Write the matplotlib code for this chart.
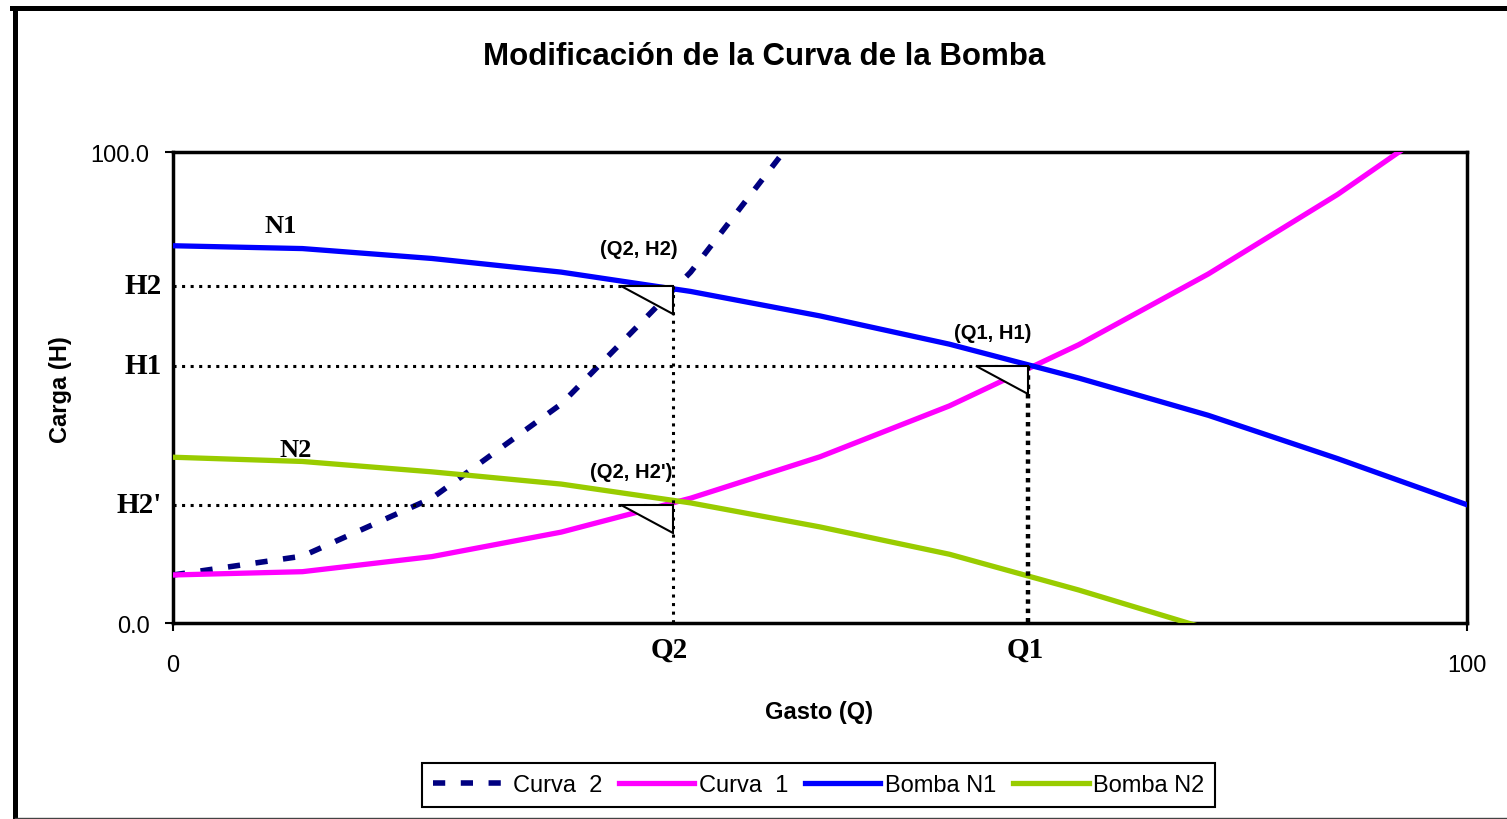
import numpy as np
import matplotlib
matplotlib.use("Agg")
import matplotlib.pyplot as plt
import matplotlib.transforms as mtransforms
from matplotlib.patches import Polygon
from matplotlib.lines import Line2D

plt.rcParams['font.family'] = ['Liberation Sans', 'DejaVu Sans']

# gasto (Q) en cada punto de las curvas
q = [0, 10, 20, 30, 40, 50, 60, 70, 80, 90, 100]
q_curva2 = [0, 10, 20, 30, 40, 50]
q_n2 = [0, 10, 20, 30, 40, 50, 60, 70, 80]

# carga (H)
h_curva2 = [10.2, 14.2, 26.5, 46.5, 74.5, 110.0]
h_curva1 = [10.2, 10.9, 14.1, 19.3, 26.5, 35.3, 46.1, 59.1, 74.1, 91.0, 110.0]
h_n1 = [80.1, 79.5, 77.4, 74.5, 70.4, 65.2, 59.2, 52.0, 44.1, 34.9, 25.1]
h_n2 = [35.2, 34.3, 32.1, 29.5, 25.5, 20.4, 14.6, 7.0, -1.3]

# puntos de operacion
Q1, H1 = 66.1, 54.6
Q2, H2 = 38.6, 71.6
H2p = 25.1

fig = plt.figure(figsize=(15.07, 8.2), dpi=100)
ax = fig.add_axes([0.1148, 0.2390, 0.8587, 0.5744])

ax.plot(q_curva2, h_curva2, color='#000080', lw=4, ls=(0, (2.2, 2.8)), label='Curva  2', zorder=3)
ax.plot(q, h_curva1, color='#FF00FF', lw=3.8, label='Curva  1', zorder=3)
ax.plot(q, h_n1, color='#0000FF', lw=3.8, label='Bomba N1', zorder=3)
ax.plot(q_n2, h_n2, color='#99CC00', lw=3.8, label='Bomba N2', zorder=3)

ax.set_xlim(0, 100)
ax.set_ylim(0, 100)
ax.set_xticks([0, 100])
ax.set_xticklabels(['0', '100'])
ax.set_yticks([0, 100])
ax.set_yticklabels(['0.0', '100.0'])
ax.tick_params(axis='x', length=6, width=1.5, pad=16, labelsize=17)
ax.tick_params(axis='y', length=6, width=1.5, pad=11, labelsize=17)
for s in ax.spines.values():
    s.set_linewidth(2.5)

# lineas punteadas
dots = dict(color='black', lw=2.2, ls=(0, (1, 1.8)), zorder=4)
ax.plot([0, Q2], [H2, H2], **dots)
ax.plot([Q2, Q2], [H2, 0], **dots)
ax.plot([0, Q1], [H1, H1], **dots)
ax.plot([Q1, Q1], [H1, 0], color='black', lw=3.2, ls=(0, (1, 1.1)), zorder=4)
ax.plot([0, Q2], [H2p, H2p], **dots)

# triangulos de llamada
tri = [(-0.52, 0.0), (0.0, 0.0), (0.0, -0.28)]
for x, y in [(Q2, H2), (Q1, H1), (Q2, H2p)]:
    tr = fig.dpi_scale_trans + mtransforms.ScaledTranslation(x, y, ax.transData)
    ax.add_patch(Polygon(tri, closed=True, transform=tr, facecolor='white',
                         edgecolor='black', lw=1.5, zorder=5, clip_on=False))

serif = ['Liberation Serif', 'DejaVu Serif']
for lab, y in [('H2', H2), ('H1', H1), ("H2'", H2p)]:
    ax.annotate(lab, xy=(0, y), xytext=(-8, 0), textcoords='offset points',
                ha='right', va='center', fontsize=21, fontweight='bold', family=serif)
for lab, x in [('Q2', Q2), ('Q1', Q1)]:
    ax.annotate(lab, xy=(x, 0), xytext=(-2, -19), textcoords='offset points',
                ha='center', va='center', fontsize=21, fontweight='bold', family=serif)
ax.text(8.3, 84.3, 'N1', ha='center', va='center', fontsize=19, fontweight='bold', family=serif)
ax.text(9.5, 36.9, 'N2', ha='center', va='center', fontsize=19, fontweight='bold', family=serif)

ax.annotate('(Q2, H2)', xy=(Q2, H2), xytext=(-24, 27), textcoords='offset points',
            ha='center', va='center', fontsize=14.5, fontweight='bold')
ax.annotate('(Q1, H1)', xy=(Q1, H1), xytext=(-26, 24), textcoords='offset points',
            ha='center', va='center', fontsize=14.5, fontweight='bold')
ax.annotate("(Q2, H2')", xy=(Q2, H2p), xytext=(-30, 24), textcoords='offset points',
            ha='center', va='center', fontsize=14.5, fontweight='bold')

fig.text(764 / 1507, 1 - 57 / 820, 'Modificación de la Curva de la Bomba',
         ha='center', va='center', fontsize=22.5, fontweight='bold')
fig.text(819 / 1507, 1 - 713 / 820, 'Gasto (Q)', ha='center', va='center',
         fontsize=17, fontweight='bold')
fig.text(61 / 1507, 1 - 390 / 820, 'Carga (H)', ha='center', va='center',
         fontsize=17, fontweight='bold', rotation=90)

leg = fig.legend(loc='center', bbox_to_anchor=(818.5 / 1507, 1 - 786 / 820), ncol=4,
                 fontsize=17, handlelength=3.2, handletextpad=0.2, columnspacing=0.7,
                 fancybox=False, edgecolor='black', framealpha=1, borderpad=0.45)
leg.get_frame().set_linewidth(1.5)

# marco del grafico
fig.add_artist(Line2D([14.5 / 1507, 14.5 / 1507], [0, 1 - 9 / 820], color='black', lw=3.6))
fig.add_artist(Line2D([12 / 1507, 1], [1 - 9 / 820, 1 - 9 / 820], color='black', lw=3.6))
fig.add_artist(Line2D([14.5 / 1507, 1], [1.5 / 820, 1.5 / 820], color='#444444', lw=1))

fig.savefig('out.png', dpi=100)
